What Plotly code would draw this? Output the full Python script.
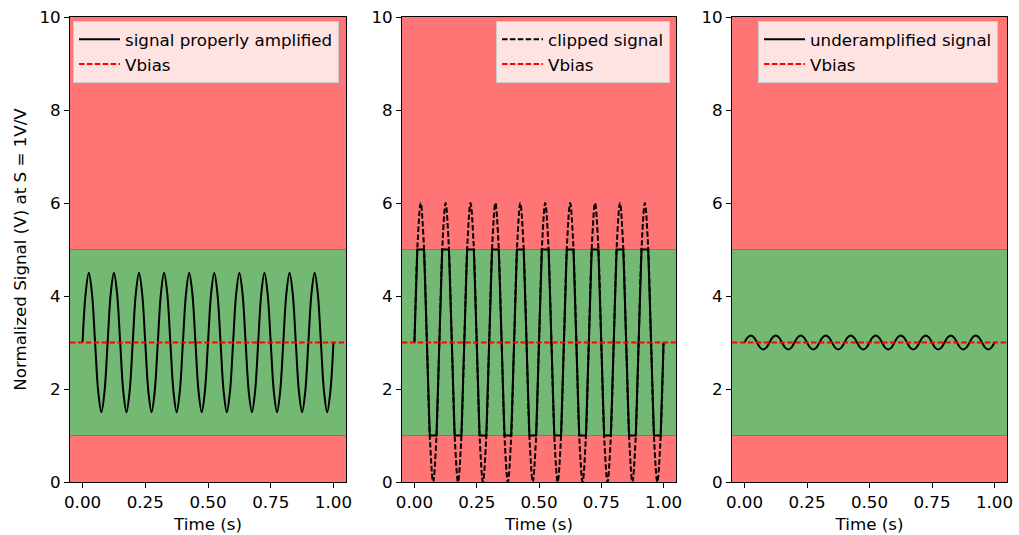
import plotly.graph_objects as go

# ---------------- data ----------------
time_s = [0.0, 0.0125, 0.025, 0.0375, 0.05, 0.0625, 0.075, 0.0875,
          0.1, 0.1125, 0.125, 0.1375, 0.15, 0.1625, 0.175, 0.1875,
          0.2, 0.2125, 0.225, 0.2375, 0.25, 0.2625, 0.275, 0.2875,
          0.3, 0.3125, 0.325, 0.3375, 0.35, 0.3625, 0.375, 0.3875,
          0.4, 0.4125, 0.425, 0.4375, 0.45, 0.4625, 0.475, 0.4875,
          0.5, 0.5125, 0.525, 0.5375, 0.55, 0.5625, 0.575, 0.5875,
          0.6, 0.6125, 0.625, 0.6375, 0.65, 0.6625, 0.675, 0.6875,
          0.7, 0.7125, 0.725, 0.7375, 0.75, 0.7625, 0.775, 0.7875,
          0.8, 0.8125, 0.825, 0.8375, 0.85, 0.8625, 0.875, 0.8875,
          0.9, 0.9125, 0.925, 0.9375, 0.95, 0.9625, 0.975, 0.9875,
          1.0]

signal_proper = [3, 4.06, 4.5, 4.06, 3, 1.94, 1.5, 1.94,
                 3, 4.06, 4.5, 4.06, 3, 1.94, 1.5, 1.94,
                 3, 4.06, 4.5, 4.06, 3, 1.94, 1.5, 1.94,
                 3, 4.06, 4.5, 4.06, 3, 1.94, 1.5, 1.94,
                 3, 4.06, 4.5, 4.06, 3, 1.94, 1.5, 1.94,
                 3, 4.06, 4.5, 4.06, 3, 1.94, 1.5, 1.94,
                 3, 4.06, 4.5, 4.06, 3, 1.94, 1.5, 1.94,
                 3, 4.06, 4.5, 4.06, 3, 1.94, 1.5, 1.94,
                 3, 4.06, 4.5, 4.06, 3, 1.94, 1.5, 1.94,
                 3, 4.06, 4.5, 4.06, 3, 1.94, 1.5, 1.94,
                 3]

signal_over = [3, 5.12, 6, 5.12, 3, 0.88, 0, 0.88,
               3, 5.12, 6, 5.12, 3, 0.88, 0, 0.88,
               3, 5.12, 6, 5.12, 3, 0.88, 0, 0.88,
               3, 5.12, 6, 5.12, 3, 0.88, 0, 0.88,
               3, 5.12, 6, 5.12, 3, 0.88, 0, 0.88,
               3, 5.12, 6, 5.12, 3, 0.88, 0, 0.88,
               3, 5.12, 6, 5.12, 3, 0.88, 0, 0.88,
               3, 5.12, 6, 5.12, 3, 0.88, 0, 0.88,
               3, 5.12, 6, 5.12, 3, 0.88, 0, 0.88,
               3, 5.12, 6, 5.12, 3, 0.88, 0, 0.88,
               3]

signal_under = [3, 3.11, 3.15, 3.11, 3, 2.89, 2.85, 2.89,
                3, 3.11, 3.15, 3.11, 3, 2.89, 2.85, 2.89,
                3, 3.11, 3.15, 3.11, 3, 2.89, 2.85, 2.89,
                3, 3.11, 3.15, 3.11, 3, 2.89, 2.85, 2.89,
                3, 3.11, 3.15, 3.11, 3, 2.89, 2.85, 2.89,
                3, 3.11, 3.15, 3.11, 3, 2.89, 2.85, 2.89,
                3, 3.11, 3.15, 3.11, 3, 2.89, 2.85, 2.89,
                3, 3.11, 3.15, 3.11, 3, 2.89, 2.85, 2.89,
                3, 3.11, 3.15, 3.11, 3, 2.89, 2.85, 2.89,
                3, 3.11, 3.15, 3.11, 3, 2.89, 2.85, 2.89,
                3]

# clipped output (limited to the 1 V .. 5 V window)
clip_time = [0.0, 0.0116, 0.0384, 0.05, 0.0616, 0.0884,
             0.1, 0.1116, 0.1384, 0.15, 0.1616, 0.1884,
             0.2, 0.2116, 0.2384, 0.25, 0.2616, 0.2884,
             0.3, 0.3116, 0.3384, 0.35, 0.3616, 0.3884,
             0.4, 0.4116, 0.4384, 0.45, 0.4616, 0.4884,
             0.5, 0.5116, 0.5384, 0.55, 0.5616, 0.5884,
             0.6, 0.6116, 0.6384, 0.65, 0.6616, 0.6884,
             0.7, 0.7116, 0.7384, 0.75, 0.7616, 0.7884,
             0.8, 0.8116, 0.8384, 0.85, 0.8616, 0.8884,
             0.9, 0.9116, 0.9384, 0.95, 0.9616, 0.9884,
             1.0]
clip_values = [3, 5, 5, 3, 1, 1,
               3, 5, 5, 3, 1, 1,
               3, 5, 5, 3, 1, 1,
               3, 5, 5, 3, 1, 1,
               3, 5, 5, 3, 1, 1,
               3, 5, 5, 3, 1, 1,
               3, 5, 5, 3, 1, 1,
               3, 5, 5, 3, 1, 1,
               3, 5, 5, 3, 1, 1,
               3, 5, 5, 3, 1, 1,
               3]

vbias = 3
v_low = 1
v_high = 5
y_max = 10
x_range = [-0.05, 1.05]
vbias_x = [-0.05, 1.05]

x_ticks = [0.0, 0.25, 0.5, 0.75, 1.0]
x_tick_labels = ["0.00", "0.25", "0.50", "0.75", "1.00"]
y_ticks = [0, 2, 4, 6, 8, 10]

# ---------------- style ----------------
FONT = "DejaVu Sans"
FS = 16.7
RED = "rgb(255,116,116)"
GREEN = "rgb(115,185,115)"
EDGE = "rgb(90,150,70)"
DASH = "5.5px,2.4px"

W, H = 1019, 535
ML, MR, MT, MB = 70, 12, 17, 53
PW = W - ML - MR
PH = H - MT - MB
domains = [
    [0.0, (346 - ML) / PW],
    [(402 - ML) / PW, (676 - ML) / PW],
    [(732 - ML) / PW, 1.0],
]

fig = go.Figure()

def add_sig(x, y, name, axis, legend, dash="solid", show=True, shape="spline"):
    fig.add_trace(go.Scatter(
        x=x, y=y, mode="lines", name=name,
        line=dict(color="black", width=2, dash=dash, shape=shape, smoothing=1.0),
        xaxis="x" + axis, yaxis="y" + axis,
        legend=legend, showlegend=show,
    ))

def add_bias(axis, legend):
    fig.add_trace(go.Scatter(
        x=vbias_x, y=[vbias, vbias], mode="lines", name="Vbias",
        line=dict(color="red", width=2, dash=DASH),
        xaxis="x" + axis, yaxis="y" + axis, legend=legend,
    ))

# panel 1
add_sig(time_s, signal_proper, "signal properly amplified", "", "legend")
add_bias("", "legend")
# panel 2
add_sig(clip_time, clip_values, "clipped output", "2", "legend2", show=False, shape="linear")
add_sig(time_s, signal_over, "clipped signal", "2", "legend2", dash=DASH)
add_bias("2", "legend2")
# panel 3
add_sig(time_s, signal_under, "underamplified signal", "3", "legend3")
add_bias("3", "legend3")

shapes = []
for ax in ["", "2", "3"]:
    xr = "x" + ax + " domain"
    yr = "y" + ax
    shapes += [
        dict(type="rect", xref=xr, yref=yr, x0=0, x1=1, y0=0, y1=v_low,
             fillcolor=RED, line=dict(width=0), layer="below"),
        dict(type="rect", xref=xr, yref=yr, x0=0, x1=1, y0=v_high, y1=y_max,
             fillcolor=RED, line=dict(width=0), layer="below"),
        dict(type="rect", xref=xr, yref=yr, x0=0, x1=1, y0=v_low, y1=v_high,
             fillcolor=GREEN, line=dict(width=0), layer="below"),
        dict(type="line", xref=xr, yref=yr, x0=0, x1=1, y0=v_low, y1=v_low,
             line=dict(color=EDGE, width=1), layer="below"),
        dict(type="line", xref=xr, yref=yr, x0=0, x1=1, y0=v_high, y1=v_high,
             line=dict(color=EDGE, width=1), layer="below"),
    ]

axis_common = dict(
    showgrid=False, zeroline=False, showline=True, linecolor="black",
    linewidth=1, mirror=True, ticks="outside", ticklen=5, tickwidth=1,
    tickcolor="black", tickfont=dict(family=FONT, size=FS, color="black"),
    automargin=False,
)

layout = dict(
    width=W, height=H,
    margin=dict(l=ML, r=MR, t=MT, b=MB, autoexpand=False),
    paper_bgcolor="white", plot_bgcolor="white",
    font=dict(family=FONT, size=FS, color="black"),
    shapes=shapes,
)
for i, ax in enumerate(["", "2", "3"]):
    layout["xaxis" + ax] = dict(
        axis_common, domain=domains[i], range=x_range,
        tickvals=x_ticks, ticktext=x_tick_labels, anchor="y" + ax,
        title=dict(text="Time (s)", font=dict(family=FONT, size=FS), standoff=7),
    )
    ydict = dict(axis_common, domain=[0, 1], range=[0, y_max],
                 tickvals=y_ticks, anchor="x" + ax)
    if i == 0:
        ydict["title"] = dict(text="Normalized Signal (V) at S = 1V/V",
                              font=dict(family=FONT, size=FS), standoff=8)
    layout["yaxis" + ax] = ydict

leg_common = dict(bgcolor="rgba(255,255,255,0.8)", bordercolor="rgb(204,204,204)",
                  borderwidth=1, font=dict(family=FONT, size=FS, color="black"),
                  itemwidth=41, yanchor="top", y=1 - (21 - MT) / PH)
layout["legend"] = dict(leg_common, x=(73 - ML) / PW, xanchor="left")
layout["legend2"] = dict(leg_common, x=(670 - ML) / PW, xanchor="right")
layout["legend3"] = dict(leg_common, x=(998 - ML) / PW, xanchor="right")

fig.update_layout(**layout)
fig.write_html("out.html", config={"displayModeBar": False},
               post_script="document.body.style.margin='0';document.body.style.overflow='hidden';")
